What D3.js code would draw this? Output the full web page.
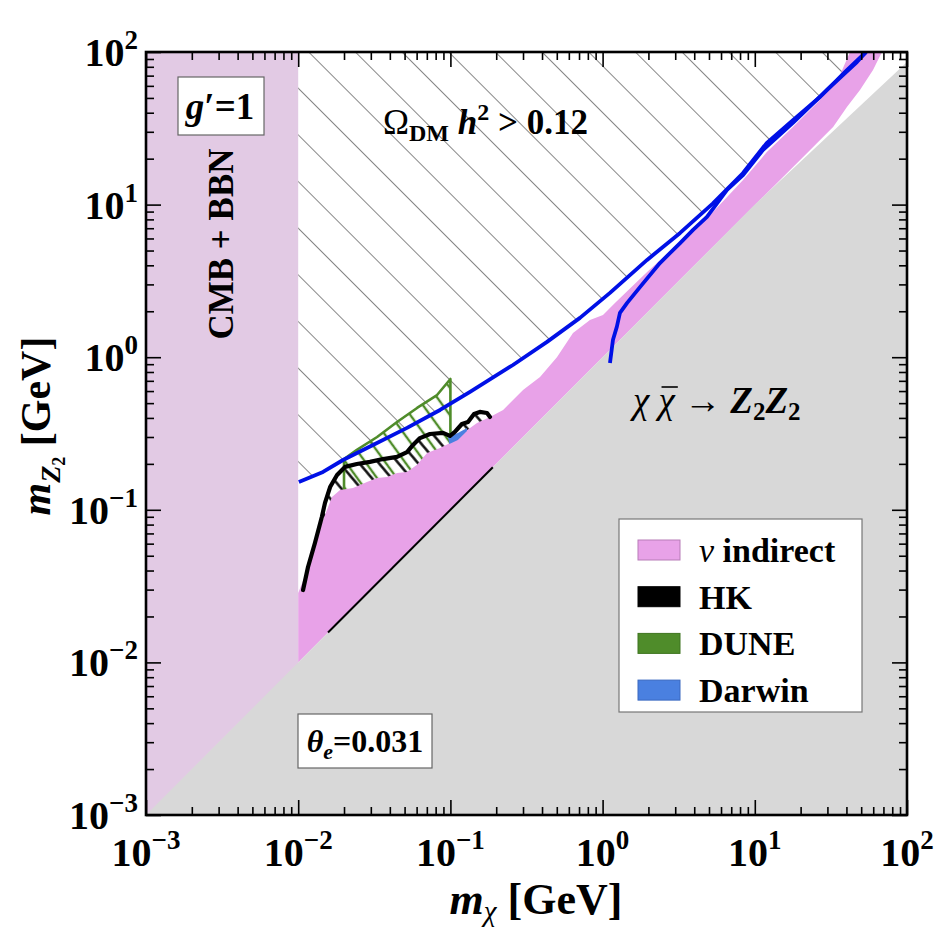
<!DOCTYPE html>
<html>
<head>
<meta charset="utf-8">
<style>
  body { margin: 0; background: #fff; }
  text { font-family: "Liberation Serif", "Times New Roman", serif; }
</style>
</head>
<body>
<svg width="937" height="933"></svg>
<script src="https://cdn.jsdelivr.net/npm/d3@7"></script>
<script>
// ---- data (GeV) ----
const decades = [1e-3, 1e-2, 1e-1, 1, 1e1, 1e2];
const decadeExp = ["\u22123", "\u22122", "\u22121", "0", "1", "2"];

// upper relic line, Omega h^2 = 0.12
const relic = [[0.0101,0.152],[0.01456,0.177],[0.0197,0.212],[0.031,0.266],[0.0519,0.344],[0.0855,0.451],
  [0.1346,0.592],[0.2576,0.889],[0.4315,1.26],[0.71,1.81],[1.118,2.64],[1.96,4.34],[3.23,6.52],[5.31,10.2],
  [8.37,16.1],[12.0,25.4],[17.8,35.8],[26.8,50.7],[40.3,76.2],[53.8,100]];

// second (lower) blue line
const relic2 = [[1.118,0.916],[1.17,1.30],[1.24,1.58],[1.30,1.95],[1.45,2.27],[1.76,2.88],[2.38,4.14],
  [3.23,5.60],[3.93,6.83],[4.85,8.30],[6.57,12.5],[8.37,15.6],[11.3,22.8],[17.8,34.3],[29.8,56.4],
  [46.9,85.9],[53.8,100]];

// nu indirect region (top edge, then right edge back to diagonal)
const nuIndirect = [[0.01,0.01],[0.01,0.0285],[0.01197,0.0448],[0.0143,0.0819],[0.01667,0.1213],[0.01883,0.1349],
  [0.0229,0.139],[0.0283,0.152],[0.033,0.1615],[0.0383,0.164],[0.0446,0.174],[0.0519,0.177],[0.0604,0.197],
  [0.0702,0.236],[0.0855,0.254],[0.0994,0.274],[0.121,0.319],[0.1496,0.371],[0.182,0.406],[0.222,0.451],
  [0.300,0.610],[0.388,0.741],[0.501,1.0],[0.639,1.44],[0.826,1.75],[1.006,1.89],[1.21,2.27],[1.96,3.61],
  [3.23,5.69],[5.31,8.94],[8.37,14.5],[12.0,22.1],[17.8,32.3],[26.8,48.4],[36.3,70.6],[42.2,100],[68.5,100],
  [59.8,76.2],[49.1,56.4],[40.3,43.6],[32.7,32.3],[23.1,22.8],[3,3]];

// HK sensitivity curve
const hk = [[0.01076,0.0298],[0.0116,0.0422],[0.01288,0.0606],[0.0143,0.0898],[0.015,0.111],[0.0162,0.141],
  [0.018,0.169],[0.0203,0.191],[0.0243,0.1995],[0.0296,0.206],[0.0361,0.215],[0.0446,0.222],[0.0519,0.239],
  [0.0568,0.266],[0.0631,0.295],[0.0734,0.314],[0.0894,0.319],[0.0994,0.305],[0.107,0.324],[0.119,0.365],
  [0.1305,0.376],[0.143,0.425],[0.156,0.438],[0.174,0.431],[0.182,0.406]];
const hkDiag = [[0.0157,0.0157],[0.19,0.19]];

// DUNE region
const dune = [[0.02,0.1],[0.02,0.215],[0.0243,0.247],[0.033,0.300],[0.0446,0.376],[0.0604,0.465],
  [0.0817,0.565],[0.1,0.72],[0.1,0.2]];

// Darwin sliver
const darwin = [[0.0964,0.300],[0.112,0.319],[0.1285,0.344],[0.1285,0.328],[0.112,0.287],[0.0985,0.270]];

// kinematic boundary m_Z2 = m_chi
const kinEdge = [[1e-3,1e-3],[10,10],[100,86]];
const cmbLimit = 0.01;

const legendItems = [
  {label: "indirect", pre: "\u03bd ", color: "#e8a2e8", stroke: "#b77db7"},
  {label: "HK", pre: "", color: "#000000", stroke: "#000"},
  {label: "DUNE", pre: "", color: "#4f8c2a", stroke: "#3f7520"},
  {label: "Darwin", pre: "", color: "#4a80e0", stroke: "#3a68c0"}
];

// ---- layout ----
const svg = d3.select("svg");
const L = 146, R = 907, T = 52, B = 815;
const x = d3.scaleLog().domain([1e-3, 1e2]).range([L, R]);
const y = d3.scaleLog().domain([1e-3, 1e2]).range([B, T]);
const line = d3.line().x(d => x(d[0])).y(d => y(d[1]));
const area = pts => line(pts) + "Z";

const defs = svg.append("defs");
defs.append("clipPath").attr("id", "plot")
  .append("rect").attr("x", L).attr("y", T).attr("width", R - L).attr("height", B - T);

function hatch(id, w, ang, col, sw) {
  defs.append("pattern").attr("id", id).attr("patternUnits", "userSpaceOnUse")
    .attr("width", w).attr("height", w).attr("patternTransform", `rotate(${ang})`)
    .append("line").attr("x1", w / 2).attr("x2", w / 2).attr("y1", 0).attr("y2", w)
    .attr("stroke", col).attr("stroke-width", sw);
}
hatch("hOmega", 33, -45, "#7a7a7a", 0.9);
hatch("hDune", 16, -36, "#4f8c2a", 2.4);
hatch("hHK", 15, -40, "#000", 2.4);

const g = svg.append("g").attr("clip-path", "url(#plot)");
g.append("rect").attr("x", L).attr("y", T).attr("width", R - L).attr("height", B - T).attr("fill", "#fff");

// CMB + BBN band
g.append("rect").attr("x", x(1e-3)).attr("y", T).attr("width", x(cmbLimit) - x(1e-3)).attr("height", B - T)
  .attr("fill", "#e2cae4");

// overabundance region: above relic line
const omegaPoly = relic.concat([[100, 100], [100, 1e2], [cmbLimit, 1e2], [cmbLimit, relic[0][1]]]);
g.append("path").attr("d", area(omegaPoly)).attr("fill", "url(#hOmega)");

// HK hatched region
const hkPoly = hk.concat([[0.19, 0.19], [0.0157, 0.0157]]);
g.append("path").attr("d", area(hkPoly)).attr("fill", "url(#hHK)");

// DUNE
g.append("path").attr("d", area(dune)).attr("fill", "url(#hDune)")
  .attr("stroke", "#4f8c2a").attr("stroke-width", 2.6).attr("stroke-linejoin", "round");

// nu indirect
g.append("path").attr("d", area(nuIndirect)).attr("fill", "#e8a2e8");

// Darwin
g.append("path").attr("d", area(darwin)).attr("fill", "#4a80e0");

// kinematically closed region (gray)
const grayPoly = kinEdge.concat([[100, 1e-3]]);
g.append("path").attr("d", area(grayPoly)).attr("fill", "#d8d8d8");

// HK lines
g.append("path").attr("d", line(hkDiag)).attr("fill", "none").attr("stroke", "#000").attr("stroke-width", 2);
g.append("path").attr("d", line(hk)).attr("fill", "none").attr("stroke", "#000")
  .attr("stroke-width", 4.2).attr("stroke-linejoin", "round").attr("stroke-linecap", "round");

// blue lines
[relic, relic2].forEach(d => {
  g.append("path").attr("d", line(d)).attr("fill", "none").attr("stroke", "#0010e6")
    .attr("stroke-width", 3.8).attr("stroke-linejoin", "round");
});

// ---- axes ----
const minors = [];
decades.slice(0, -1).forEach(dv => { for (let k = 2; k <= 9; k++) minors.push(dv * k); });

function ticks(axisFn, scale, size, vals, tr) {
  svg.append("g").attr("transform", tr)
    .call(axisFn(scale).tickValues(vals).tickSize(size).tickFormat(""))
    .call(s => s.select(".domain").remove())
    .call(s => s.selectAll("line").attr("stroke", "#000").attr("stroke-width", 1.6));
}
ticks(d3.axisBottom, x, -15, decades, `translate(0,${B})`);
ticks(d3.axisBottom, x, -8, minors, `translate(0,${B})`);
ticks(d3.axisTop, x, -15, decades, `translate(0,${T})`);
ticks(d3.axisTop, x, -8, minors, `translate(0,${T})`);
ticks(d3.axisLeft, y, -15, decades, `translate(${L},0)`);
ticks(d3.axisLeft, y, -8, minors, `translate(${L},0)`);
ticks(d3.axisRight, y, -15, decades, `translate(${R},0)`);
ticks(d3.axisRight, y, -8, minors, `translate(${R},0)`);

svg.append("rect").attr("x", L).attr("y", T).attr("width", R - L).attr("height", B - T)
  .attr("fill", "none").attr("stroke", "#000").attr("stroke-width", 2.6);

// tick labels
decades.forEach((dv, i) => {
  const tx = svg.append("text").attr("x", x(dv)).attr("y", B + 51).attr("text-anchor", "middle")
    .attr("font-size", 40).attr("font-weight", "bold");
  tx.append("tspan").text("10");
  tx.append("tspan").attr("dy", -17).attr("font-size", 27).text(decadeExp[i]);
  const ty = svg.append("text").attr("x", L - 8).attr("y", y(dv) + 14).attr("text-anchor", "end")
    .attr("font-size", 40).attr("font-weight", "bold");
  ty.append("tspan").text("10");
  ty.append("tspan").attr("dy", -17).attr("font-size", 27).text(decadeExp[i]);
});

// axis titles
const xt = svg.append("text").attr("x", 536).attr("y", 914).attr("text-anchor", "middle")
  .attr("font-size", 44).attr("font-weight", "bold");
xt.append("tspan").attr("font-style", "italic").text("m");
xt.append("tspan").attr("dy", 7).attr("font-size", 29).attr("font-style", "italic").attr("font-weight", "normal").text("\u03c7");
xt.append("tspan").attr("dy", -7).text(" [GeV]");

const yt = svg.append("text").attr("transform", "translate(50,426) rotate(-90)").attr("text-anchor", "middle")
  .attr("font-size", 42).attr("font-weight", "bold");
yt.append("tspan").attr("font-style", "italic").text("m");
yt.append("tspan").attr("dy", 10).attr("font-size", 28).attr("font-style", "italic").text("Z");
yt.append("tspan").attr("dy", 5).attr("font-size", 18).text("2");
yt.append("tspan").attr("dy", -15).text(" [GeV]");

// ---- annotations ----
function boxLabel(cx, cy, w, h) {
  svg.append("rect").attr("x", cx - w / 2).attr("y", cy - h / 2).attr("width", w).attr("height", h)
    .attr("fill", "#fff").attr("stroke", "#666").attr("stroke-width", 1.2);
}
boxLabel(221, 106, 86, 58);
const gt = svg.append("text").attr("x", 220).attr("y", 119).attr("text-anchor", "middle")
  .attr("font-size", 37).attr("font-weight", "bold");
gt.append("tspan").attr("font-style", "italic").text("g");
gt.append("tspan").text("\u2032=1");

boxLabel(365, 741, 134, 54);
const th = svg.append("text").attr("x", 365).attr("y", 752).attr("text-anchor", "middle")
  .attr("font-size", 32).attr("font-weight", "bold");
th.append("tspan").attr("font-style", "italic").text("\u03b8");
th.append("tspan").attr("dy", 7).attr("font-size", 22).attr("font-style", "italic").text("e");
th.append("tspan").attr("dy", -7).text("=0.031");

svg.append("text").attr("transform", "translate(233,244) rotate(-90)").attr("text-anchor", "middle")
  .attr("font-size", 35).attr("font-weight", "bold").text("CMB + BBN");

const om = svg.append("text").attr("x", 383).attr("y", 134).attr("font-size", 35).attr("font-weight", "bold");
om.append("tspan").attr("font-weight", "normal").text("\u03a9");
om.append("tspan").attr("dy", 7).attr("font-size", 24).text("DM");
om.append("tspan").attr("dy", -7).attr("font-style", "italic").text(" h");
om.append("tspan").attr("dy", -14).attr("font-size", 24).text("2");
om.append("tspan").attr("dy", 14).text(" > 0.12");

const ch = svg.append("text").attr("x", 633).attr("y", 413).attr("font-size", 37);
ch.append("tspan").attr("font-style", "italic").text("\u03c7 ");
ch.append("tspan").attr("font-style", "italic").text("\u03c7");
ch.append("tspan").text(" \u2192 ");
ch.append("tspan").attr("font-style", "italic").attr("font-weight", "bold").text("Z");
ch.append("tspan").attr("dy", 7).attr("font-size", 25).attr("font-weight", "bold").text("2");
ch.append("tspan").attr("dy", -7).attr("font-style", "italic").attr("font-weight", "bold").text("Z");
ch.append("tspan").attr("dy", 7).attr("font-size", 25).attr("font-weight", "bold").text("2");
// bar over the second chi
const chn = ch.node();
const p0 = chn.getStartPositionOfChar(2), p1 = chn.getEndPositionOfChar(2);
svg.append("line").attr("x1", p0.x + 3).attr("x2", p1.x + 3).attr("y1", 413 - 26).attr("y2", 413 - 26)
  .attr("stroke", "#000").attr("stroke-width", 1.6);

// legend
const lg = svg.append("g");
lg.append("rect").attr("x", 619).attr("y", 519).attr("width", 243).attr("height", 193)
  .attr("fill", "#fff").attr("stroke", "#777").attr("stroke-width", 1.2);
legendItems.forEach((d, i) => {
  const cy = 550 + i * 46.7;
  lg.append("rect").attr("x", 638).attr("y", cy - 10).attr("width", 42).attr("height", 20)
    .attr("fill", d.color).attr("stroke", d.stroke).attr("stroke-width", 1);
  const t = lg.append("text").attr("x", 699).attr("y", cy + 12).attr("font-size", 34).attr("font-weight", "bold");
  if (d.pre) t.append("tspan").attr("font-style", "italic").attr("font-weight", "normal").text(d.pre);
  t.append("tspan").text(d.label);
});
</script>
</body>
</html>
